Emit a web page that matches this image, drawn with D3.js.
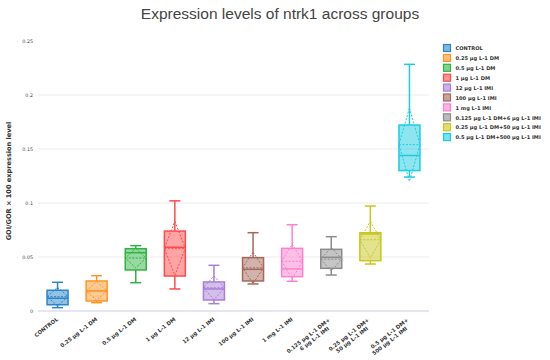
<!DOCTYPE html>
<html>
<head>
<meta charset="utf-8">
<script src="https://cdn.jsdelivr.net/npm/d3@7"></script>
<style>
  html, body { margin: 0; padding: 0; background: #fff; }
  svg { display: block; }
</style>
</head>
<body>
<svg id="chart" width="550" height="360"></svg>
<script>
// ---- data ----
const categories = [
  "CONTROL", "0.25 μg L-1 DM", "0.5 μg L-1 DM", "1 μg L-1 DM", "12 μg L-1 IMI",
  "100 μg L-1 IMI", "1 mg L-1 IMI", "0.125 μg L-1 DM+6 μg L-1 IMI",
  "0.25 μg L-1 DM+50 μg L-1 IMI", "0.5 μg L-1 DM+500 μg L-1 IMI"
];
const tickLabels = [
  ["CONTROL"], ["0.25 μg L-1 DM"], ["0.5 μg L-1 DM"], ["1 μg L-1 DM"], ["12 μg L-1 IMI"],
  ["100 μg L-1 IMI"], ["1 mg L-1 IMI"], ["0.125 μg L-1 DM+", "6 μg L-1 IMI"],
  ["0.25 μg L-1 DM+", "50 μg L-1 IMI"], ["0.5 μg L-1 DM+", "500 μg L-1 IMI"]
];
const colors = ["#2a86c8", "#ff9326", "#2fb344", "#ff4a4a", "#a97dd6",
                "#a5685a", "#ff7fcf", "#8c8c8c", "#c7c71f", "#1ccde0"];
const whiskerLow  = [0.0031, 0.0077, 0.0262, 0.0204, 0.0068, 0.0250, 0.0275, 0.0333, 0.0435, 0.1240];
const q1          = [0.0058, 0.0093, 0.0380, 0.0324, 0.0102, 0.0278, 0.0318, 0.0395, 0.0466, 0.1300];
const median      = [0.0118, 0.0185, 0.0540, 0.0590, 0.0204, 0.0386, 0.0390, 0.0497, 0.0713, 0.1440];
const q3          = [0.0192, 0.0278, 0.0577, 0.0740, 0.0269, 0.0494, 0.0580, 0.0571, 0.0725, 0.1722];
const whiskerHigh = [0.0266, 0.0327, 0.0605, 0.1020, 0.0423, 0.0725, 0.0799, 0.0688, 0.0972, 0.2284];
const means       = [0.0133, 0.0185, 0.0490, 0.0580, 0.0215, 0.0400, 0.0460, 0.0480, 0.0660, 0.1540];
const sds         = [0.0085, 0.0085, 0.0090, 0.0250, 0.0110, 0.0145, 0.0160, 0.0110, 0.0170, 0.0340];
const yTicks = [0, 0.05, 0.1, 0.15, 0.2, 0.25];

const title = "Expression levels of ntrk1 across groups";
const yTitle = "GOI/GOR × 100 expression level";

// ---- layout ----
const svg = d3.select("#chart");
const plot = { left: 38, right: 429, top: 41, bottom: 311 };

const x = d3.scaleBand().domain(categories).range([plot.left, plot.right]).paddingInner(0).paddingOuter(0);
const y = d3.scaleLinear().domain([0, 0.25]).range([plot.bottom, plot.top]);

// grid
svg.append("g").selectAll("line").data(yTicks.filter(t => t > 0 && t < 0.25)).join("line")
  .attr("x1", plot.left).attr("x2", plot.right)
  .attr("y1", d => y(d)).attr("y2", d => y(d))
  .attr("stroke", "#ececec").attr("stroke-width", 1);
// zero line
svg.append("line").attr("x1", plot.left).attr("x2", plot.right)
  .attr("y1", y(0)).attr("y2", y(0)).attr("stroke", "#dcdcf0").attr("stroke-width", 1.5);

// y axis labels
const yAxis = d3.axisLeft(y).tickValues(yTicks).tickSize(0).tickPadding(5)
  .tickFormat(d => d3.format("~g")(d));
const yg = svg.append("g").attr("transform", `translate(${plot.left},0)`).call(yAxis);
yg.select(".domain").remove();
yg.selectAll("text").attr("font-family", "DejaVu Sans, sans-serif").attr("font-size", 4.8).attr("fill", "#444");

// x axis labels
const xAxis = d3.axisBottom(x).tickSize(0).tickFormat("");
const xg = svg.append("g").attr("transform", `translate(0,${plot.bottom})`).call(xAxis);
xg.select(".domain").remove();
xg.selectAll(".tick").each(function(d, i) {
  const lines = tickLabels[i];
  const t = d3.select(this).append("text")
    .attr("transform", `translate(1,${lines.length > 1 ? 12 : 9}) rotate(-38)`)
    .attr("text-anchor", "end")
    .attr("font-family", "DejaVu Sans, sans-serif").attr("font-size", 5.3)
    .attr("font-weight", "bold").attr("fill", "#333");
  lines.forEach((ln, k) => {
    t.append("tspan").attr("x", k === 0 ? 0 : -6).attr("dy", k === 0 ? (lines.length > 1 ? "-0.55em" : "0") : "1.15em").text(ln);
  });
});

// boxes
const bw = 21, cw = 9;
const boxes = svg.append("g").selectAll("g").data(categories).join("g");
boxes.each(function(c, i) {
  const g = d3.select(this);
  const cx = x(c) + x.bandwidth() / 2;
  const col = colors[i];
  // whiskers
  g.append("line").attr("x1", cx).attr("x2", cx).attr("y1", y(q3[i])).attr("y2", y(whiskerHigh[i]))
    .attr("stroke", col).attr("stroke-width", 1.5);
  g.append("line").attr("x1", cx).attr("x2", cx).attr("y1", y(q1[i])).attr("y2", y(whiskerLow[i]))
    .attr("stroke", col).attr("stroke-width", 1.5);
  [whiskerHigh[i], whiskerLow[i]].forEach(v => {
    g.append("line").attr("x1", cx - cw / 2 - 1).attr("x2", cx + cw / 2 + 1).attr("y1", y(v)).attr("y2", y(v))
      .attr("stroke", col).attr("stroke-width", 1.5);
  });
  // box
  g.append("rect").attr("x", cx - bw / 2).attr("width", bw)
    .attr("y", y(q3[i])).attr("height", y(q1[i]) - y(q3[i]))
    .attr("fill", col).attr("fill-opacity", 0.5).attr("stroke", col).attr("stroke-width", 1.5);
  // median
  g.append("line").attr("x1", cx - bw / 2).attr("x2", cx + bw / 2).attr("y1", y(median[i])).attr("y2", y(median[i]))
    .attr("stroke", col).attr("stroke-width", 1.5);
  // mean & sd diamond
  const m = means[i], s = sds[i];
  g.append("line").attr("x1", cx - bw / 2).attr("x2", cx + bw / 2).attr("y1", y(m)).attr("y2", y(m))
    .attr("stroke", col).attr("stroke-width", 1).attr("stroke-dasharray", "2,1.5");
  const pts = [[cx, y(m + s)], [cx + bw / 2, y(m)], [cx, y(m - s)], [cx - bw / 2, y(m)]];
  g.append("path").attr("d", "M" + pts.map(p => p.join(",")).join("L") + "Z")
    .attr("fill", "none").attr("stroke", col).attr("stroke-width", 1).attr("stroke-dasharray", "2,1.5");
});

// title
svg.append("text").attr("x", 280).attr("y", 19).attr("text-anchor", "middle")
  .attr("font-family", "Liberation Sans, Arial, sans-serif").attr("font-size", 15.5).attr("fill", "#444")
  .text(title);

// y title
svg.append("text").attr("transform", `translate(11,${(plot.top + plot.bottom) / 2 + 5}) rotate(-90)`)
  .attr("text-anchor", "middle").attr("font-family", "DejaVu Sans, sans-serif")
  .attr("font-size", 6.6).attr("font-weight", "bold").attr("fill", "#333").text(yTitle);

// legend
const lg = svg.append("g").attr("transform", "translate(443,44)");
const items = lg.selectAll("g").data(categories).join("g")
  .attr("transform", (d, i) => `translate(0,${i * 9.9})`);
items.append("rect").attr("x", 0.5).attr("y", 0.5).attr("width", 7).attr("height", 7)
  .attr("fill", (d, i) => colors[i]).attr("fill-opacity", 0.6)
  .attr("stroke", (d, i) => colors[i]).attr("stroke-width", 1.2);
items.append("text").attr("x", 12.5).attr("y", 6.3)
  .attr("font-family", "DejaVu Sans, sans-serif").attr("font-size", 5.1).attr("font-weight", "bold")
  .attr("fill", "#333").text(d => d);
</script>
</body>
</html>
